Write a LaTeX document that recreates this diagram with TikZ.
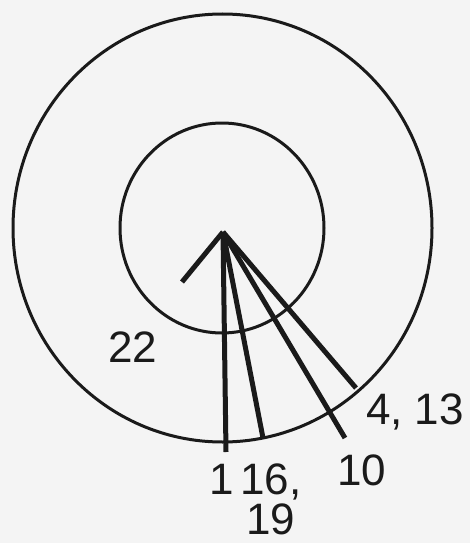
\documentclass[tikz,border=0pt]{standalone}
\usepackage{fontspec}
\setmainfont{Liberation Sans}
\usepackage{xcolor}
\definecolor{Papier}{HTML}{F4F4F4}
\definecolor{Tinte}{HTML}{1A1A1A}

\begin{document}
\begin{tikzpicture}[x=1pt, y=-1pt,
  ring/.style={draw=Tinte, line width=3pt},
  strahl/.style={draw=Tinte, line width=5pt},
  zahl/.style={text=Tinte, font=\fontsize{44}{42}\selectfont, inner sep=0pt, anchor=base, align=center}]

  % Hintergrund und Rahmen
  \fill[Papier] (0,0) rectangle (470,543);
  \useasboundingbox (0,0) rectangle (470,543);

  % Kreise (aussen, innen)
  \draw[ring] (222.5,228) ellipse [x radius=209.5, y radius=214];
  \draw[ring] (222,228) ellipse [x radius=102, y radius=105];

  % Endpunkte der Strahlen
  \coordinate (mitte) at (223,232);
  \coordinate (e22) at (182,282);
  \coordinate (e1)  at (226,452);
  \coordinate (e16) at (263,438);
  \coordinate (e10) at (345,438);
  \coordinate (e4)  at (356,388);

  % Strahlen vom Mittelpunkt
  \foreach \ende in {e22,e1,e16,e10,e4}
    \draw[strahl] (mitte) -- (\ende);

  % Beschriftung
  \node[zahl] (l22) at (133,362) {22};
  \node[zahl] (l1)  at (222,494) {1};
  \node[zahl] (l16) at (271,494) {16,};
  \node[zahl] (l19) at (271,534) {19};
  \node[zahl] (l10) at (362,485) {10};
  \node[zahl] (l4)  at (415,424) {4, 13};

\end{tikzpicture}
\end{document}
